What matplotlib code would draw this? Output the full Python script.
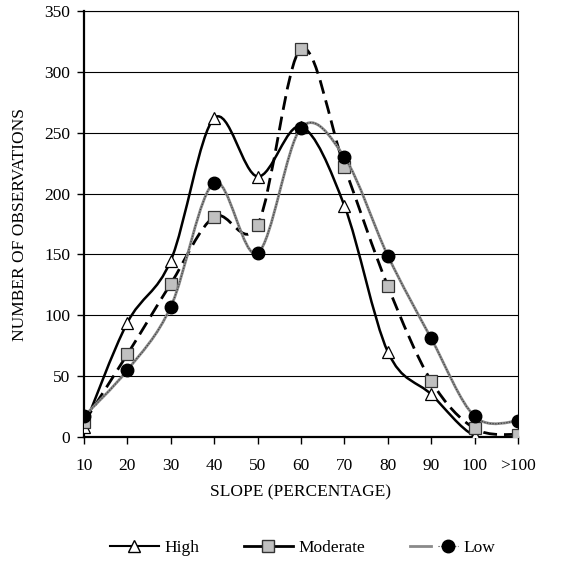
import matplotlib
matplotlib.use("Agg")
import matplotlib.pyplot as plt
from matplotlib.path import Path
from matplotlib.patches import PathPatch
from matplotlib.lines import Line2D
from matplotlib.legend_handler import HandlerTuple

plt.rcParams['font.family'] = ['Liberation Serif', 'DejaVu Serif']
plt.rcParams['font.size'] = 12.5

categories = ["10", "20", "30", "40", "50", "60", "70", "80", "90", "100", ">100"]
high = [8, 94, 145, 262, 214, 255, 190, 70, 35, 1, 0]
moderate = [12, 68, 126, 181, 174, 319, 222, 124, 46, 7, 2]
low = [17, 55, 107, 209, 151, 254, 230, 149, 81, 17, 13]


def smooth_path(ys):
    # Excel-style smoothed line: cubic bezier through every point
    xs = list(range(len(ys)))
    pts = list(zip(xs, ys))
    verts = [pts[0]]
    codes = [Path.MOVETO]
    n = len(pts)
    for i in range(n - 1):
        p0 = pts[i - 1] if i > 0 else pts[i]
        p1 = pts[i]
        p2 = pts[i + 1]
        p3 = pts[i + 2] if i + 2 < n else pts[i + 1]
        c1 = (p1[0] + (p2[0] - p0[0]) / 6, p1[1] + (p2[1] - p0[1]) / 6)
        c2 = (p2[0] - (p3[0] - p1[0]) / 6, p2[1] - (p3[1] - p1[1]) / 6)
        verts += [c1, c2, p2]
        codes += [Path.CURVE4] * 3
    return Path(verts, codes)


fig = plt.figure(figsize=(5.66, 5.62), dpi=100)
ax = fig.add_axes([0.1484, 0.2224, 0.7668, 0.758])

x = list(range(len(categories)))

# High
ax.add_patch(PathPatch(smooth_path(high), fill=False, edgecolor='black', lw=1.8, zorder=3))
ax.plot(x, high, ls='none', marker='^', ms=9, mfc='white', mec='black', mew=0.9, zorder=4)

# Moderate
ax.add_patch(PathPatch(smooth_path(moderate), fill=False, edgecolor='black', lw=2,
                       linestyle=(0, (5, 2.5)), zorder=5))
ax.plot(x, moderate, ls='none', marker='s', ms=8, mfc='#c0c0c0', mec='#333333', mew=0.9, zorder=6)

# Low
ax.add_patch(PathPatch(smooth_path(low), fill=False, edgecolor='#8a8a8a', lw=2.0, zorder=7))
ax.add_patch(PathPatch(smooth_path(low), fill=False, edgecolor='#3a3a3a', lw=0.8,
                       linestyle=(0, (1, 1.5)), zorder=7))
ax.plot(x, low, ls='none', marker='o', ms=9, mfc='black', mec='black', zorder=8)

ax.set_xlim(0, len(categories) - 1)
ax.set_ylim(0, 350)
ax.set_xticks(x)
ax.set_xticklabels(categories)
ax.set_yticks(range(0, 351, 50))
ax.yaxis.grid(True, color='black', lw=0.8)
ax.set_axisbelow(True)
ax.tick_params(direction='out', length=5, width=1)
ax.tick_params(axis='x', pad=10)
ax.tick_params(axis='y', pad=5)
ax.spines['left'].set_linewidth(1.6)
ax.spines['bottom'].set_linewidth(1.6)
ax.spines['top'].set_linewidth(0.8)
ax.spines['right'].set_linewidth(0.8)

ax.set_xlabel("SLOPE (PERCENTAGE)", va='center')
ax.set_ylabel("NUMBER OF OBSERVATIONS", va='center')
ax.xaxis.set_label_coords(0.5, -0.131)
ax.yaxis.set_label_coords(-0.147, 0.5)

h_high = Line2D([], [], color='black', lw=1.5, marker='^', ms=9, mfc='white', mec='black')
h_mod = Line2D([], [], color='black', lw=2, marker='s', ms=8, mfc='#c0c0c0', mec='#333333')
h_low_a = Line2D([], [], color='#8a8a8a', lw=2.0)
h_low_b = Line2D([], [], color='#3a3a3a', lw=0.8, ls=(0, (1, 1.5)), marker='o', ms=9,
                 mfc='black', mec='black')
fig.legend([h_high, h_mod, (h_low_a, h_low_b)], ["High", "Moderate", "Low"],
           loc='center', bbox_to_anchor=(0.535, 0.025), ncol=3, frameon=False,
           handlelength=2.8, columnspacing=2.6, handletextpad=0.3,
           handler_map={tuple: HandlerTuple(ndivide=None)})

fig.savefig("out.png", dpi=100)
